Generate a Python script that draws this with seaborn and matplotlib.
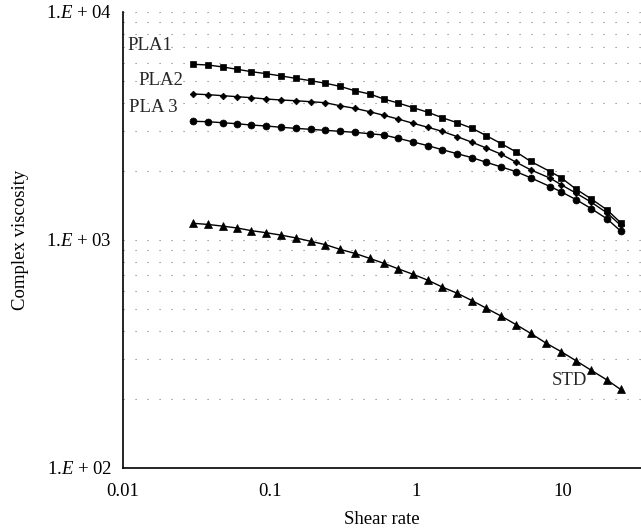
import numpy as np
import pandas as pd
import matplotlib
matplotlib.use("Agg")
import matplotlib.pyplot as plt
import seaborn as sns
from matplotlib.ticker import FixedLocator, FixedFormatter, NullLocator, LogLocator, NullFormatter

# ---- data ----
shear_rate_pla = [0.030, 0.038, 0.048, 0.060, 0.075, 0.095, 0.12, 0.15, 0.19, 0.24,
                  0.30, 0.38, 0.48, 0.60, 0.75, 0.95, 1.2, 1.5, 1.9, 2.4,
                  3.0, 3.8, 4.8, 6.0, 8.2, 9.7, 12.3, 15.6, 20.0, 24.7]
shear_rate_std = [0.030, 0.038, 0.048, 0.060, 0.075, 0.095, 0.12, 0.15, 0.19, 0.24,
                  0.30, 0.38, 0.48, 0.60, 0.75, 0.95, 1.2, 1.5, 1.9, 2.4,
                  3.0, 3.8, 4.8, 6.0, 7.6, 9.7, 12.3, 15.6, 20.0, 24.7]
pla1 = [5898, 5855, 5739, 5607, 5473, 5363, 5240, 5120, 4998, 4869,
        4723, 4517, 4370, 4153, 3990, 3805, 3632, 3439, 3268, 3089,
        2868, 2644, 2432, 2214, 1993, 1876, 1669, 1513, 1354, 1191]
pla2 = [4370, 4339, 4295, 4252, 4209, 4153, 4111, 4083, 4042, 4001,
        3882, 3781, 3654, 3523, 3394, 3249, 3121, 2997, 2839, 2682,
        2532, 2376, 2192, 2033, 1865, 1748, 1603, 1464, 1313, 1160]
pla3 = [3316, 3303, 3268, 3235, 3193, 3162, 3121, 3089, 3058, 3027,
        2997, 2967, 2925, 2887, 2793, 2691, 2592, 2489, 2390, 2296,
        2192, 2090, 1993, 1876, 1713, 1628, 1502, 1372, 1236, 1095]
std = [1184, 1170, 1150, 1129, 1099, 1076, 1050, 1022, 987, 954,
       911, 874, 831, 790, 748, 707, 666, 622, 584, 542,
       502, 463, 425, 390, 354, 324, 295, 268, 243, 221]

y_ticks = [1e2, 1e3, 1e4]
y_tick_labels = [r"1.$E$ + 02", r"1.$E$ + 03", r"1.$E$ + 04"]
x_ticks = [0.01, 0.1, 1, 10]
x_tick_labels = ["0.01", "0.1", "1", "10"]

# ---- style ----
sns.set_style("white")
plt.rcParams["font.family"] = ["Liberation Serif", "DejaVu Serif"]
plt.rcParams["mathtext.fontset"] = "custom"
plt.rcParams["mathtext.rm"] = "Liberation Serif"
plt.rcParams["mathtext.it"] = "Liberation Serif:italic"

FS = 13.5
fig = plt.figure(figsize=(6.41, 5.31), dpi=100)
ax = fig.add_axes([123 / 641, 1 - 468 / 531, 1 - 123 / 641, (468 - 12) / 531])

series = [
    ("PLA1", shear_rate_pla, pla1, "s", 5.0),
    ("PLA2", shear_rate_pla, pla2, "D", 3.4),
    ("PLA 3", shear_rate_pla, pla3, "o", 5.0),
    ("STD", shear_rate_std, std, "^", 5.4),
]
for name, xs, ys, mk, ms in series:
    df = pd.DataFrame({"x": xs, "y": ys})
    sns.lineplot(data=df, x="x", y="y", ax=ax, color="black", linewidth=1.0,
                 marker=mk, markersize=ms, markeredgecolor="black",
                 markerfacecolor="black", markeredgewidth=0.5, sort=False)

ax.set_xscale("log")
ax.set_yscale("log")
ax.set_xlim(0.01, 34.0)
ax.set_ylim(100, 10000)

ax.xaxis.set_major_locator(FixedLocator(x_ticks))
ax.xaxis.set_major_formatter(FixedFormatter(x_tick_labels))
ax.xaxis.set_minor_locator(NullLocator())
ax.yaxis.set_major_locator(FixedLocator(y_ticks))
ax.yaxis.set_major_formatter(FixedFormatter(y_tick_labels))
ax.yaxis.set_minor_locator(LogLocator(base=10, subs=range(2, 10)))
ax.yaxis.set_minor_formatter(NullFormatter())

ax.tick_params(axis="both", which="both", length=0, labelsize=FS, colors="black")
ax.tick_params(axis="x", pad=11)
ax.tick_params(axis="y", pad=8)

ax.grid(True, which="both", axis="y", color="#7a7a7a",
        linestyle=(0, (1, 9.8)), linewidth=0.8)
ax.grid(False, axis="x")

for s in ["top", "right"]:
    ax.spines[s].set_visible(False)
for s in ["left", "bottom"]:
    ax.spines[s].set_color("black")
    ax.spines[s].set_linewidth(1.2)

ax.set_xlabel("Shear rate", fontsize=FS, color="black", labelpad=8)
ax.set_ylabel("Complex viscosity", fontsize=FS, color="black", labelpad=12)

ax.text(0.0108, 7160, "PLA1", fontsize=FS, ha="left", va="center")
ax.text(0.01265, 5030, "PLA2", fontsize=FS, ha="left", va="center")
ax.text(0.0110, 3830, "PLA 3", fontsize=FS, ha="left", va="center")
ax.text(8.4, 243, "STD", fontsize=FS, ha="left", va="center")

fig.savefig("out.png", dpi=100)
